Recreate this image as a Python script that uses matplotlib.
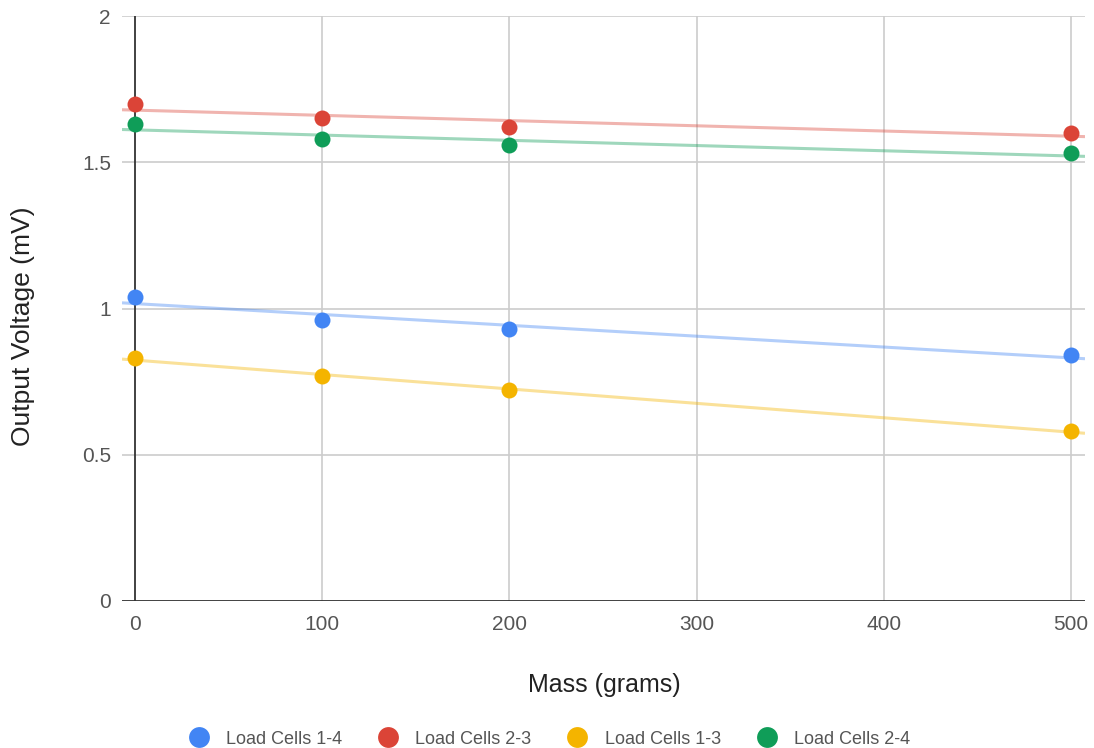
import numpy as np
import matplotlib
matplotlib.use("Agg")
import matplotlib.pyplot as plt
from matplotlib.lines import Line2D

plt.rcParams['font.family'] = ['Liberation Sans', 'DejaVu Sans']

mass = [0, 100, 200, 500]
series_names = ["Load Cells 1-4", "Load Cells 2-3", "Load Cells 1-3", "Load Cells 2-4"]
cells_1_4 = [1.04, 0.96, 0.93, 0.84]
cells_2_3 = [1.70, 1.65, 1.62, 1.60]
cells_1_3 = [0.83, 0.77, 0.72, 0.58]
cells_2_4 = [1.63, 1.58, 1.56, 1.53]
x_ticks = [0, 100, 200, 300, 400, 500]
y_ticks = [0, 0.5, 1, 1.5, 2]
y_tick_labels = ["0", "0.5", "1", "1.5", "2"]

colors = ["#4285F4", "#DB4437", "#F4B400", "#0F9D58"]
all_series = [cells_1_4, cells_2_3, cells_1_3, cells_2_4]

fig = plt.figure(figsize=(10.94, 7.48), dpi=100)
ax = fig.add_axes([122/1094, 1-601/748, (1085-122)/1094, (601-16)/748])

xmin, xmax = -6.94, 507.5
ax.set_xlim(xmin, xmax)
ax.set_ylim(0, 2)

# gridlines
for xt in x_ticks:
    if xt != 0:
        ax.axvline(xt, color="#cccccc", lw=1.2, zorder=0)
for yt in y_ticks:
    if yt != 0:
        ax.axhline(yt, color="#cccccc", lw=1.2, zorder=0)
ax.axvline(0, color="#333333", lw=1.3, zorder=1)
ax.axhline(0, color="#333333", lw=1.3, zorder=1)

xs = np.array(mass, dtype=float)
xl = np.array([xmin, xmax])
for vals, c in zip(all_series, colors):
    k, b = np.polyfit(xs, np.array(vals), 1)
    ax.plot(xl, k * xl + b, color=c, lw=2.2, alpha=0.4, zorder=2, solid_capstyle='butt')
    ax.plot(xs, vals, 'o', color=c, ms=11.5, mec='none', zorder=3)

for s in ax.spines.values():
    s.set_visible(False)
ax.set_xticks(x_ticks)
ax.set_yticks(y_ticks)
ax.set_yticklabels(y_tick_labels)
ax.tick_params(length=0, labelsize=15, colors="#555555")
ax.tick_params(axis='x', pad=10)
ax.tick_params(axis='y', pad=8)

fig.text(604/1094, 1-685/748, "Mass (grams)", ha='center', va='center', fontsize=18, color="#222222")
fig.text(23/1094, 1-326/748, "Output Voltage (mV)", ha='center', va='center', rotation=90, fontsize=19, color="#222222")

handles = [Line2D([], [], marker='o', ls='none', color=c, ms=15, mec='none') for c in colors]
leg = fig.legend(handles, series_names, loc='center', bbox_to_anchor=(549/1094, 1-739/748),
                 ncol=4, frameon=False, fontsize=13, handletextpad=0.9, columnspacing=1.95,
                 handlelength=1.2, borderpad=0, borderaxespad=0)
for t in leg.get_texts():
    t.set_color("#555555")

fig.savefig("out.png", dpi=100)
